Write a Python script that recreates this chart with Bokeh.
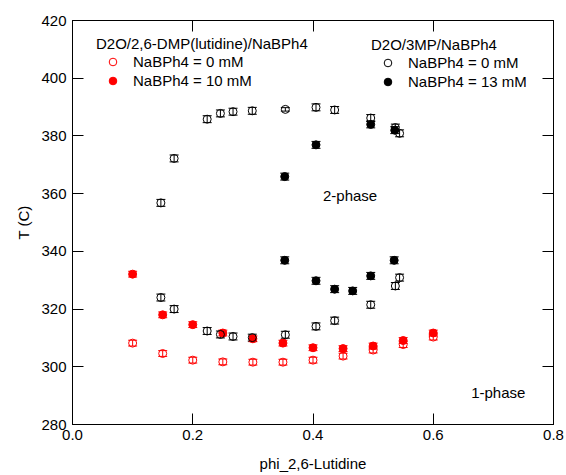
from bokeh.plotting import figure
from bokeh.models import (ColumnDataSource, Range1d, LinearAxis, FixedTicker, Whisker,
                          TeeHead, Legend, LegendItem, Label, NumeralTickFormatter,
                          CustomJSTickFormatter)
from bokeh.embed import file_html
from bokeh.resources import INLINE

# ---- data ----
# D2O/2,6-DMP(lutidine)/NaBPh4, NaBPh4 = 0 mM (red open)
lut0_phi = [0.10, 0.15, 0.20, 0.25, 0.30, 0.35, 0.40, 0.45, 0.50, 0.55, 0.60]
lut0_T = [308.2, 304.6, 302.3, 301.7, 301.6, 301.6, 302.3, 303.7, 305.8, 307.7, 310.3]
lut0_err = [1.0, 1.0, 1.0, 1.0, 1.0, 1.0, 1.0, 1.0, 1.0, 1.0, 1.0]

# D2O/2,6-DMP(lutidine)/NaBPh4, NaBPh4 = 10 mM (red filled)
lut10_phi = [0.10, 0.15, 0.20, 0.25, 0.30, 0.35, 0.40, 0.45, 0.50, 0.55, 0.60]
lut10_T = [332.1, 318.0, 314.6, 311.7, 309.7, 308.2, 306.6, 306.3, 307.2, 309.1, 311.7]
lut10_err = [1.0, 1.0, 1.0, 1.0, 1.0, 1.0, 1.0, 1.0, 1.0, 1.0, 1.0]

# D2O/3MP/NaBPh4, NaBPh4 = 0 mM (black open)
mp0_phi = [0.147, 0.169, 0.224, 0.246, 0.267, 0.299, 0.354, 0.405, 0.436, 0.496, 0.537, 0.544,
           0.147, 0.169, 0.224, 0.246, 0.267, 0.299, 0.354, 0.405, 0.436, 0.496, 0.537, 0.544]
mp0_T = [356.8, 372.2, 385.8, 387.8, 388.4, 388.7, 389.2, 389.9, 389.0, 386.2, 382.9, 380.9,
         324.0, 320.0, 312.4, 311.2, 310.5, 310.1, 311.1, 314.0, 316.0, 321.5, 328.0, 330.9]
mp0_err = [1.2, 1.2, 1.2, 1.2, 1.2, 1.2, 0.6, 1.2, 1.2, 1.2, 1.2, 1.2,
           1.2, 1.2, 1.2, 1.2, 1.2, 1.2, 1.2, 1.2, 1.2, 1.2, 1.2, 1.2]

# D2O/3MP/NaBPh4, NaBPh4 = 13 mM (black filled)
mp13_phi = [0.353, 0.405, 0.496, 0.536, 0.353, 0.405, 0.436, 0.466, 0.496, 0.535]
mp13_T = [365.9, 376.9, 384.0, 382.0, 336.9, 329.8, 326.9, 326.3, 331.5, 336.9]
mp13_err = [1.2, 1.2, 1.2, 1.2, 1.2, 1.2, 1.2, 1.2, 1.2, 1.2]

x_ticks = [0.0, 0.2, 0.4, 0.6, 0.8]
y_ticks = [280, 300, 320, 340, 360, 380, 400, 420]

FONT = "Liberation Sans"
FS = "15px"

p = figure(width=566, height=475, output_backend="svg", toolbar_location=None,
           x_range=Range1d(0, 0.8), y_range=Range1d(280, 420),
           min_border_left=72, min_border_right=13, min_border_top=20, min_border_bottom=51)
p.grid.visible = False
p.outline_line_color = "black"
p.outline_line_width = 1
p.background_fill_color = "white"
p.border_fill_color = "white"


def style_axis(ax, ticks, show_labels=True):
    ax.ticker = FixedTicker(ticks=ticks)
    ax.major_tick_in = 11
    ax.major_tick_out = 0
    ax.minor_tick_in = 0
    ax.minor_tick_out = 0
    ax.axis_line_color = "black"
    ax.major_tick_line_color = "black"
    ax.major_label_text_font = FONT
    ax.major_label_text_color = "black"
    ax.major_label_text_font_size = FS
    if not show_labels:
        ax.formatter = CustomJSTickFormatter(code="return ''")
        ax.major_label_standoff = 0


style_axis(p.xaxis[0], x_ticks)
p.xaxis[0].formatter = NumeralTickFormatter(format="0.0")
p.xaxis[0].major_label_standoff = 5
p.xaxis[0].axis_label = "phi_2,6-Lutidine"
p.xaxis[0].axis_label_standoff = 12
style_axis(p.yaxis[0], y_ticks)
p.yaxis[0].major_label_standoff = 6
p.yaxis[0].axis_label = "T (C)"
p.yaxis[0].axis_label_standoff = 6
for ax in (p.xaxis[0], p.yaxis[0]):
    ax.axis_label_text_font = FONT
    ax.axis_label_text_font_size = FS
    ax.axis_label_text_font_style = "normal"
    ax.axis_label_text_color = "black"

top_ax = LinearAxis()
style_axis(top_ax, x_ticks, show_labels=False)
p.add_layout(top_ax, "above")
right_ax = LinearAxis()
style_axis(right_ax, y_ticks, show_labels=False)
p.add_layout(right_ax, "right")


def series(phi, T, err, color, filled):
    src = ColumnDataSource(dict(x=phi, y=T, lo=[t - e for t, e in zip(T, err)],
                                hi=[t + e for t, e in zip(T, err)]))
    w = Whisker(source=src, base="x", lower="lo", upper="hi", dimension="height",
                line_color=color, line_width=1,
                upper_head=TeeHead(size=9, line_color=color, line_width=1),
                lower_head=TeeHead(size=9, line_color=color, line_width=1))
    p.add_layout(w)
    r = p.scatter("x", "y", source=src, size=8, marker="circle", line_color=color,
                  line_width=1, fill_color=color, fill_alpha=1.0 if filled else 0.0)
    return r


r_l0 = series(lut0_phi, lut0_T, lut0_err, "#ff0000", False)
r_l10 = series(lut10_phi, lut10_T, lut10_err, "#ff0000", True)
r_m0 = series(mp0_phi, mp0_T, mp0_err, "black", False)
r_m13 = series(mp13_phi, mp13_T, mp13_err, "black", True)


def make_legend(title, items, loc):
    lg = Legend(items=items, title=title, location=loc, orientation="vertical")
    lg.border_line_alpha = 0
    lg.background_fill_alpha = 0
    lg.padding = 0
    lg.margin = 0
    lg.spacing = -1
    lg.title_standoff = -3
    lg.title_text_font = FONT
    lg.title_text_font_size = FS
    lg.title_text_font_style = "normal"
    lg.title_text_color = "black"
    lg.label_text_font = FONT
    lg.label_text_font_size = FS
    lg.label_text_color = "black"
    lg.glyph_width = 33
    lg.glyph_height = 19
    lg.label_height = 18
    lg.label_standoff = 4
    p.add_layout(lg, "center")


make_legend("D2O/2,6-DMP(lutidine)/NaBPh4",
            [LegendItem(label="NaBPh4 = 0 mM", renderers=[r_l0]),
             LegendItem(label="NaBPh4 = 10 mM", renderers=[r_l10])], (24, 334))
make_legend("D2O/3MP/NaBPh4",
            [LegendItem(label="NaBPh4 = 0 mM", renderers=[r_m0]),
             LegendItem(label="NaBPh4 = 13 mM", renderers=[r_m13])], (299, 333))

for txt, x, y in (("2-phase", 0.4166, 359.3), ("1-phase", 0.663, 291.1)):
    p.add_layout(Label(x=x, y=y, text=txt, text_font=FONT, text_font_size=FS,
                       text_baseline="middle", text_align="left", text_color="black"))

open("out.html", "w").write(file_html(p, INLINE))
